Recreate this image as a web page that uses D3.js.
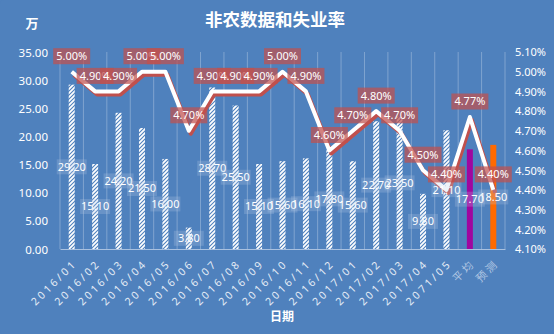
<!DOCTYPE html>
<html><head><meta charset="utf-8">
<script src="https://cdn.jsdelivr.net/npm/d3@7"></script>
<style>
body{margin:0;background:#4f81bd;}
svg{display:block;}
text{font-family:"Noto Sans","Noto Sans CJK SC",sans-serif;}
</style></head>
<body>
<svg id="c" width="554" height="334"></svg>
<script>
const categories = ["2016/01","2016/02","2016/03","2016/04","2016/05","2016/06","2016/07","2016/08","2016/09","2016/10","2016/11","2016/12","2017/01","2017/02","2017/03","2017/04","2071/05","平均","预测"];
const payrolls = [29.20,15.10,24.20,21.50,16.00,3.80,28.70,25.50,15.10,15.60,16.10,17.80,15.60,22.70,23.50,9.80,21.10,17.70,18.50];
const unemployment = [5.00,4.90,4.90,5.00,5.00,4.70,4.90,4.90,4.90,5.00,4.90,4.60,4.70,4.80,4.70,4.50,4.40,4.77,4.40];
const leftTicks = [0,5,10,15,20,25,30,35];
const rightTicks = [4.1,4.2,4.3,4.4,4.5,4.6,4.7,4.8,4.9,5.0,5.1];

const svg = d3.select("#c");
const L = 60, R = 505, T = 52, B = 249;

svg.append("rect").attr("width",554).attr("height",334).attr("fill","#4f81bd").attr("rx",4);

const defs = svg.append("defs");
const pat = defs.append("pattern").attr("id","hatch").attr("patternUnits","userSpaceOnUse")
  .attr("width",4).attr("height",4);
pat.append("rect").attr("width",4).attr("height",4).attr("fill","#ffffff");
pat.append("path").attr("d","M-1,1 l2,-2 M0,4 l4,-4 M3,5 l2,-2").attr("stroke","#4f81bd").attr("stroke-width",1.1);

const x = d3.scaleBand().domain(categories).range([L,R]).padding(0);
const yL = d3.scaleLinear().domain([0,35]).range([B,T]);
const yR = d3.scaleLinear().domain([4.1,5.1]).range([B,T]);

// vertical gridlines
const bounds = categories.map(c=>x(c)).concat([R]);
svg.append("g").selectAll("line").data(bounds).join("line")
  .attr("x1",d=>d).attr("x2",d=>d).attr("y1",T).attr("y2",B)
  .attr("stroke","#ffffff").attr("stroke-opacity",0.28).attr("stroke-width",1);

// left axis
const gl = svg.append("g").attr("transform",`translate(${L-12},0)`)
  .call(d3.axisLeft(yL).tickValues(leftTicks).tickFormat(d3.format(".2f")).tickSize(0));
gl.select(".domain").remove();
gl.selectAll("text").attr("fill","#ffffff").attr("font-size",11.5).attr("dy","0.35em").attr("x",0);

// right axis
const gr = svg.append("g").attr("transform",`translate(${R+10},0)`)
  .call(d3.axisRight(yR).tickValues(rightTicks).tickFormat(d=>d.toFixed(2)+"%").tickSize(0));
gr.select(".domain").remove();
gr.selectAll("text").attr("fill","#ffffff").attr("font-size",11).attr("dy","0.35em").attr("x",0);

// bottom axis
const gb = svg.append("g").attr("transform",`translate(0,${B})`)
  .call(d3.axisBottom(x).tickSize(0));
gb.select(".domain").attr("stroke","#a9c1e0").attr("stroke-width",1.2);
gb.selectAll("text")
  .attr("fill",(d)=> (d==="平均"||d==="预测") ? "#b5c9e4" : "#e4ecf6")
  .attr("font-size",10.5).attr("letter-spacing","2.8px")
  .attr("text-anchor","end").attr("dy","0").attr("y",0)
  .attr("transform","translate(6,15) rotate(-45)");

// bars
const bw = 6;
const barFill = (d,i)=> categories[i]==="平均" ? "#a0069f" : categories[i]==="预测" ? "#ff6a00" : "url(#hatch)";
svg.append("g").selectAll("rect").data(payrolls).join("rect")
  .attr("x",(d,i)=>x(categories[i])+x.bandwidth()/2-bw/2)
  .attr("y",d=>yL(d)).attr("width",bw).attr("height",d=>B-yL(d))
  .attr("fill",barFill);

// line with red shadow
const line = d3.line().x((d,i)=>x(categories[i])+x.bandwidth()/2).y(d=>yR(d));
svg.append("path").datum(unemployment).attr("d",line).attr("fill","none")
  .attr("stroke","#c0504d").attr("stroke-width",4).attr("stroke-linejoin","round")
  .attr("transform","translate(2,3)");
svg.append("path").datum(unemployment).attr("d",line).attr("fill","none")
  .attr("stroke","#ffffff").attr("stroke-width",4).attr("stroke-linejoin","round");

// bar labels
const bl = svg.append("g");
payrolls.forEach((v,i)=>{
  const cx = x(categories[i])+x.bandwidth()/2;
  const cy = (yL(v)+B)/2;
  const g = bl.append("g").attr("transform",`translate(${cx},${cy})`);
  g.append("rect").attr("x",-15).attr("y",-7.5).attr("width",30).attr("height",15)
    .attr("fill","#b9cde6").attr("fill-opacity",0.25);
  g.append("text").text(v.toFixed(2)).attr("text-anchor","middle").attr("dy","0.36em")
    .attr("fill","#ffffff").attr("font-size",11);
});

// line labels
const ll = svg.append("g");
unemployment.forEach((v,i)=>{
  const cx = x(categories[i])+x.bandwidth()/2;
  const cy = yR(v)-15.5;
  const g = ll.append("g").attr("transform",`translate(${cx},${cy})`);
  g.append("rect").attr("x",-18.5).attr("y",-8).attr("width",37).attr("height",16)
    .attr("fill","#c0504d").attr("fill-opacity",0.72);
  g.append("text").text(v.toFixed(2)+"%").attr("text-anchor","middle").attr("dy","0.36em")
    .attr("fill","#ffffff").attr("font-size",11);
});

// titles
svg.append("text").text("非农数据和失业率").attr("x",275).attr("y",26)
  .attr("text-anchor","middle").attr("fill","#ffffff").attr("font-size",17.5).attr("font-weight","bold");
svg.append("text").text("万").attr("x",32).attr("y",28)
  .attr("text-anchor","middle").attr("fill","#ffffff").attr("font-size",13).attr("font-weight","bold");
svg.append("text").text("日期").attr("x",282).attr("y",321)
  .attr("text-anchor","middle").attr("fill","#ffffff").attr("font-size",12).attr("font-weight","bold");
</script>
</body></html>
